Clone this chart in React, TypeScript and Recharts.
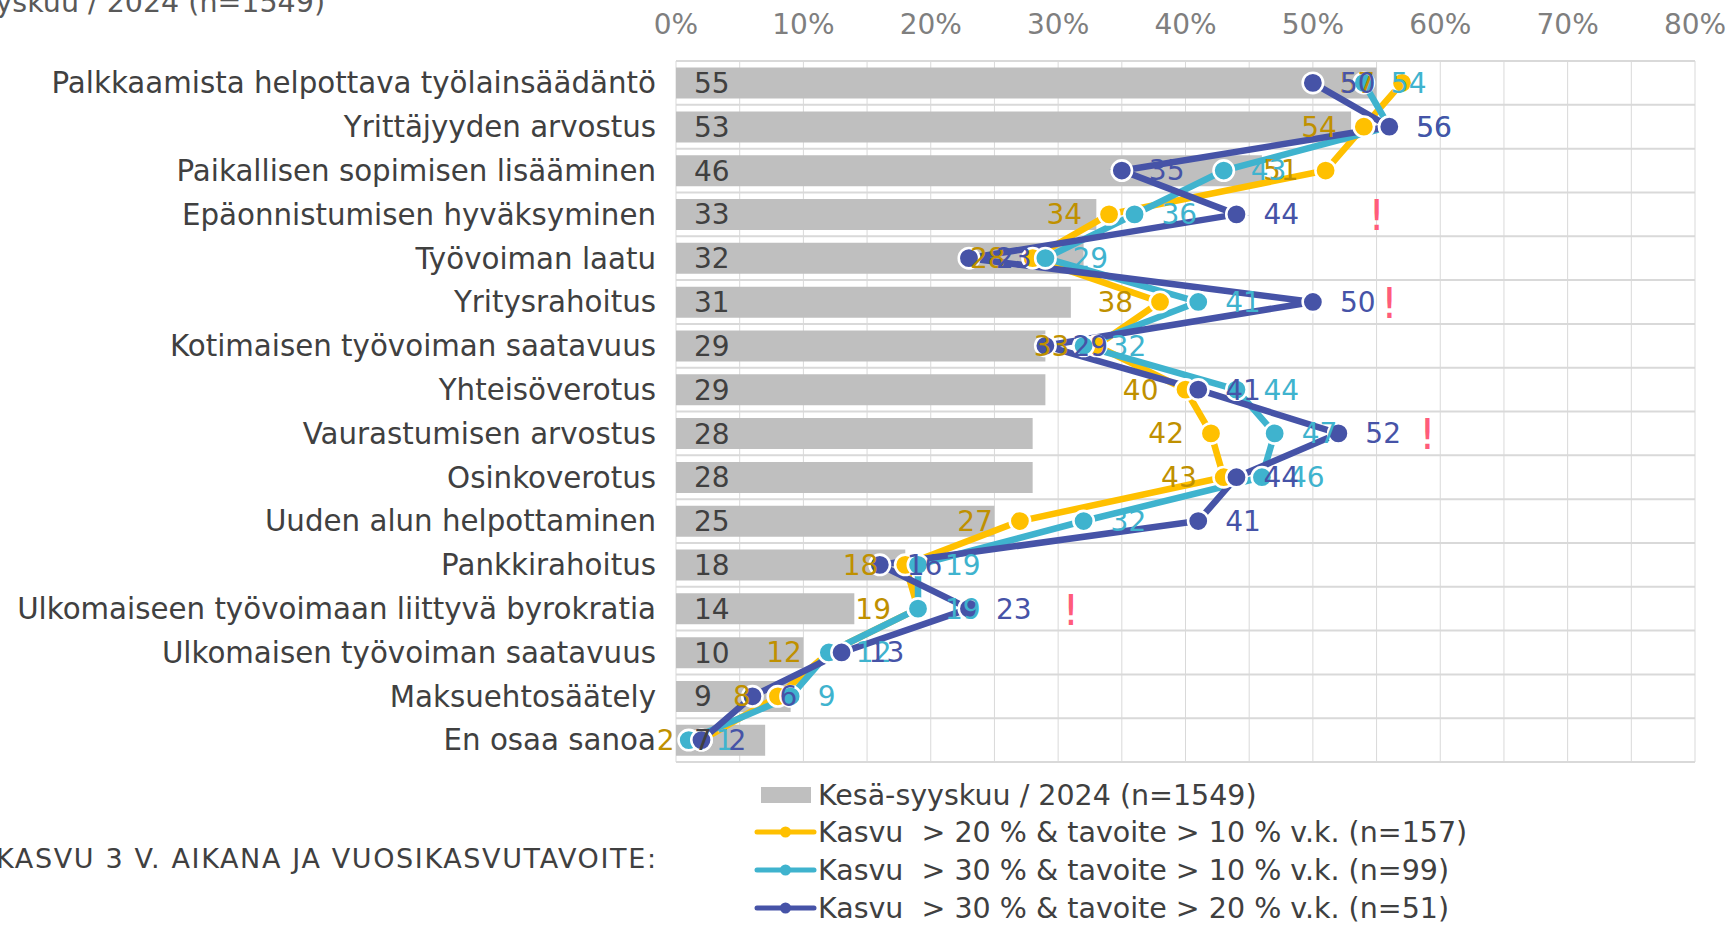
import React from "react";
import {
  Bar,
  CartesianGrid,
  ComposedChart,
  LabelList,
  Line,
  XAxis,
  YAxis,
} from "recharts";

const categories = [
  "Palkkaamista helpottava työlainsäädäntö",
  "Yrittäjyyden arvostus",
  "Paikallisen sopimisen lisääminen",
  "Epäonnistumisen hyväksyminen",
  "Työvoiman laatu",
  "Yritysrahoitus",
  "Kotimaisen työvoiman saatavuus",
  "Yhteisöverotus",
  "Vaurastumisen arvostus",
  "Osinkoverotus",
  "Uuden alun helpottaminen",
  "Pankkirahoitus",
  "Ulkomaiseen työvoimaan liittyvä byrokratia",
  "Ulkomaisen työvoiman saatavuus",
  "Maksuehtosäätely",
  "En osaa sanoa",
];

// Kesä-syyskuu / 2024 (n=1549)
const allFirms = [55, 53, 46, 33, 32, 31, 29, 29, 28, 28, 25, 18, 14, 10, 9, 7];
// Kasvu > 20 % & tavoite > 10 %
const growth20 = [57, 54, 51, 34, 28, 38, 33, 40, 42, 43, 27, 18, 19, 12, 8, 2];
// Kasvu > 30 % & tavoite > 10 %
const growth30 = [54, 56, 43, 36, 29, 41, 32, 44, 47, 46, 32, 19, 19, 12, 9, 1];
// Kasvu > 30 % & tavoite > 20 %
const growth30high = [50, 56, 35, 44, 23, 50, 29, 41, 52, 44, 41, 16, 23, 13, 6, 2];
// where the red "!" markers sit (in %)
const alertAt = [null, null, null, 55, null, 56, null, null, 59, null, null, null, 31, null, null, null];

const xTicks = [0, 10, 20, 30, 40, 50, 60, 70, 80];
const gridSteps = [0, 5, 10, 15, 20, 25, 30, 35, 40, 45, 50, 55, 60, 65, 70, 75, 80];
const X_MAX = 80;

const FONT = '"DejaVu Sans", Verdana, sans-serif';
const TEXT = "#404040";
const GRID = "#D9D9D9";

const barSeries = { key: "all", name: "Kesä-syyskuu / 2024 (n=1549)", color: "#BFBFBF" };

const lineSeries = [
  {
    key: "g20",
    name: "Kasvu  > 20 % & tavoite > 10 % v.k. (n=157)",
    color: "#FFC000",
    labelColor: "#BF9000",
    labelPos: "left",
  },
  {
    key: "g30",
    name: "Kasvu  > 30 % & tavoite > 10 % v.k. (n=99)",
    color: "#3FB3CE",
    labelColor: "#3FB3CE",
    labelPos: "right",
  },
  {
    key: "g30b",
    name: "Kasvu  > 30 % & tavoite > 20 % v.k. (n=51)",
    color: "#4653A7",
    labelColor: "#4653A7",
    labelPos: "right",
  },
];

const data = categories.map((name, i) => ({
  name,
  all: allFirms[i],
  g20: growth20[i],
  g30: growth30[i],
  g30b: growth30high[i],
  alert: alertAt[i],
}));

const renderAlert = (props: any) => {
  const { value } = props;
  if (value == null) return null;
  const vb = props.viewBox || {};
  const x = props.x ?? vb.x;
  const y = props.y ?? vb.y;
  if (x == null || y == null) return null;
  return (
    <text x={x} y={y} dy={16} textAnchor="middle" fill="#FF5C7A" fontSize={42} fontFamily={FONT}>
      !
    </text>
  );
};

const makeDot = (color: string) => (p: any) => {
  if (p.cx == null || p.cy == null) return <g key={p.index} />;
  return (
    <circle key={p.index} cx={p.cx} cy={p.cy} r={10.2} fill={color} stroke="#fff" strokeWidth={2.6} />
  );
};

function Legend() {
  const left = 757;
  const rowY = [795, 832, 870, 908];
  return (
    <svg
      width={1729}
      height={927}
      style={{ position: "absolute", left: 0, top: 0, pointerEvents: "none" }}
      fontFamily={FONT}
    >
      <text x={325} y={12} textAnchor="end" fill="#595959" fontSize={28.5}>
        Kesä-syyskuu / 2024 (n=1549)
      </text>
      <text x={-4} y={868} fill={TEXT} fontSize={27} textLength={660} lengthAdjust="spacing">
        KASVU 3 V. AIKANA JA VUOSIKASVUTAVOITE:
      </text>

      <rect x={left + 4} y={rowY[0] - 8} width={50} height={16} fill={barSeries.color} />
      <text x={818} y={rowY[0]} dy={10} fill={TEXT} fontSize={28.5}>
        {barSeries.name}
      </text>
      {lineSeries.map((s, i) => (
        <g key={s.key}>
          <line
            x1={left}
            x2={left + 57}
            y1={rowY[i + 1]}
            y2={rowY[i + 1]}
            stroke={s.color}
            strokeWidth={5}
            strokeLinecap="round"
          />
          <circle cx={left + 28.5} cy={rowY[i + 1]} r={5.5} fill={s.color} />
          <text x={818} y={rowY[i + 1]} dy={10} fill={TEXT} fontSize={28.5} style={{ whiteSpace: "pre" }}>
            {s.name}
          </text>
        </g>
      ))}
    </svg>
  );
}

export default function App() {
  return (
    <div
      style={{
        position: "absolute",
        left: 0,
        top: 0,
        width: 1729,
        height: 927,
        overflow: "hidden",
        background: "#fff",
        fontFamily: FONT,
      }}
    >
      <ComposedChart
        width={1729}
        height={927}
        data={data}
        layout="vertical"
        margin={{ top: 0, right: 34, bottom: 165, left: 0 }}
        barCategoryGap="15%"
      >
        <CartesianGrid
          horizontal={false}
          stroke={GRID}
          verticalCoordinatesGenerator={({ offset }: any) =>
            gridSteps.map((v) => offset.left + (v / X_MAX) * offset.width)
          }
        />
        <CartesianGrid
          vertical={false}
          stroke={GRID}
          strokeWidth={2}
          horizontalCoordinatesGenerator={({ offset }: any) =>
            Array.from(
              { length: categories.length + 1 },
              (_, i) => offset.top + (i * offset.height) / categories.length
            )
          }
        />
        <XAxis
          type="number"
          orientation="top"
          domain={[0, X_MAX]}
          ticks={xTicks}
          height={61}
          axisLine={false}
          tickLine={false}
          tickSize={0}
          tickMargin={27}
          tickFormatter={(v) => `${v}%`}
          tick={{ fontSize: 28, fill: "#7F7F7F", fontFamily: FONT }}
        />
        <YAxis
          type="category"
          dataKey="name"
          width={676}
          axisLine={false}
          tickLine={false}
          tickSize={0}
          tickMargin={20}
          interval={0}
          tick={{ fontSize: 29.3, fill: TEXT, fontFamily: FONT }}
        />
        <Bar dataKey={barSeries.key} fill={barSeries.color} isAnimationActive={false}>
          <LabelList
            dataKey={barSeries.key}
            position="insideLeft"
            offset={18}
            fill={TEXT}
            fontSize={28}
            fontFamily={FONT}
          />
        </Bar>
        {lineSeries.map((s) => (
          <Line
            key={s.key}
            dataKey={s.key}
            type="linear"
            stroke={s.color}
            strokeWidth={6.5}
            dot={makeDot(s.color)}
            activeDot={false}
            isAnimationActive={false}
          >
            <LabelList
              dataKey={s.key}
              position={s.labelPos as any}
              offset={27}
              fill={s.labelColor}
              fontSize={28}
              fontFamily={FONT}
            />
          </Line>
        ))}
        <Line
          dataKey="alert"
          stroke="none"
          dot={false}
          activeDot={false}
          legendType="none"
          isAnimationActive={false}
        >
          <LabelList dataKey="alert" content={renderAlert} />
        </Line>
      </ComposedChart>
      <Legend />
    </div>
  );
}
